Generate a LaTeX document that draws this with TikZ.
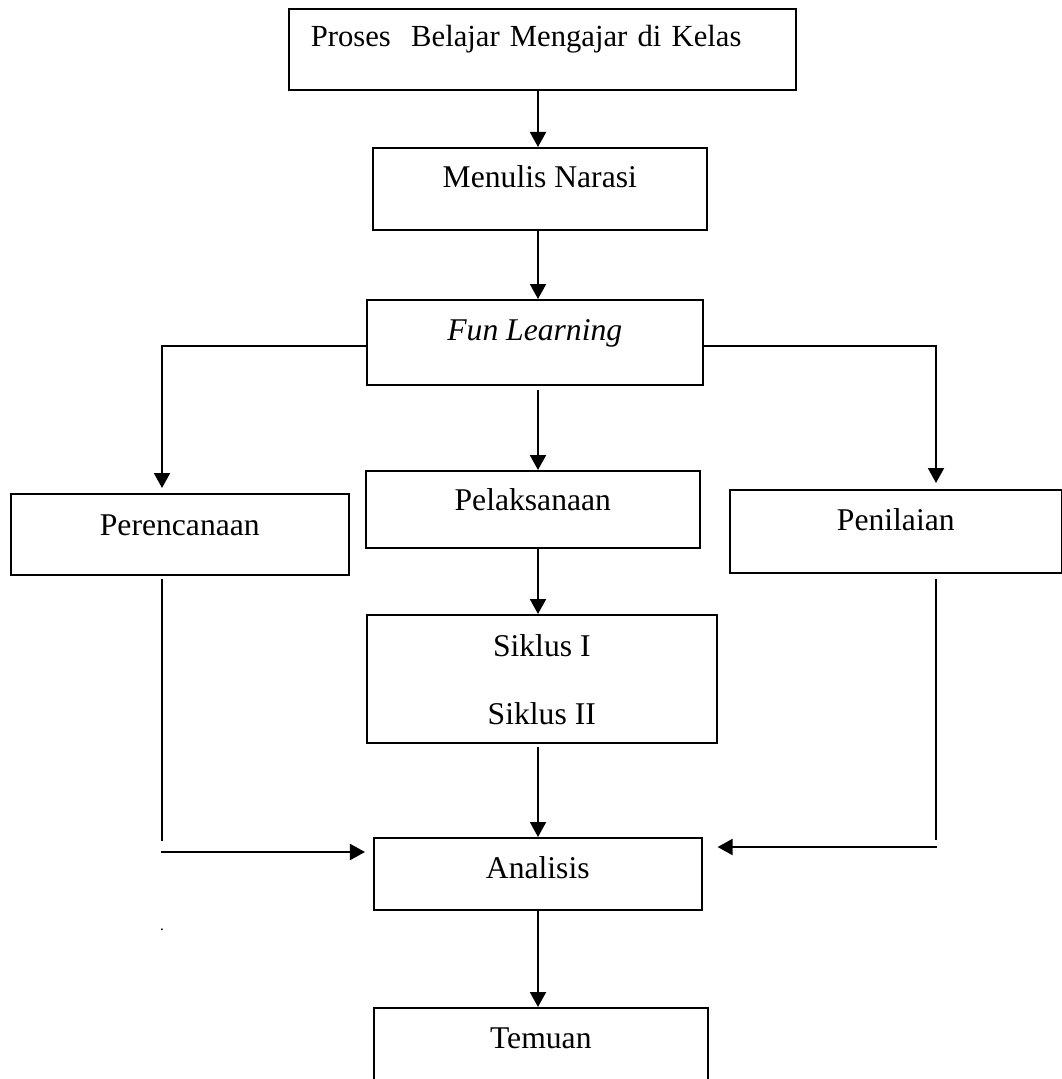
\documentclass[tikz,border=0pt]{standalone}
\usepackage{fontspec}
\setmainfont{Liberation Serif}
\usetikzlibrary{arrows.meta}

\begin{document}
\begin{tikzpicture}[x=0.025cm,y=-0.025cm,font=\fontsize{22.5}{27}\selectfont]
	\tikzstyle{box}=[rectangle,draw,line width=0.0375cm,anchor=north west,inner sep=0pt]
	\tikzstyle{flow}=[line width=0.05cm,-{Triangle[length=0.375cm,width=0.4cm]}]
	\tikzstyle{feed}=[line width=0.05cm]
	\useasboundingbox (0,0) rectangle (1062,1079);
	\node (proses)   at (288,8)    [box,minimum width=12.675cm,text width=11.575cm,inner xsep=0.55cm,align=left,text height=0.95cm,text depth=1.075cm,font=\fontsize{21.8}{27}\selectfont] {Proses \ Belajar Mengajar di Kelas};
	\node (menulis)  at (372,147)  [box,minimum width=8.35cm,text height=1.0cm,text depth=1.05cm] {Menulis Narasi};
	\node (fun)      at (366,299)  [box,minimum width=8.4cm,text height=1.025cm,text depth=1.1cm] {\textit{Fun Learning}};
	\node (perenc)   at (10,493)   [box,minimum width=8.45cm,text height=1.05cm,text depth=0.975cm] {Perencanaan};
	\node (pelak)    at (365,470)  [box,minimum width=8.35cm,text height=1.0cm,text depth=0.925cm] {Pelaksanaan};
	\node (penil)    at (729,489)  [box,minimum width=8.3cm,text height=1.025cm,text depth=1.05cm] {Penilaian};
	\node (siklus)   at (366,614)  [box,minimum width=8.75cm,align=center,text height=2.75cm,text depth=0.45cm,font=\fontsize{22.5}{48.4}\selectfont] {Siklus I\\Siklus II};
	\node (analisis) at (373,837)  [box,minimum width=8.2cm,text height=1.025cm,text depth=0.775cm] {Analisis};
	\node (temuan)   at (373,1007) [box,minimum width=8.35cm,text height=1.025cm,text depth=1.2cm] {Temuan};
	\node (dot)      at (162,930)  [font=\fontsize{11}{13}\selectfont] {.};
	\coordinate (spine)     at (538,0);
	\coordinate (branch)    at (0,346);
	\coordinate (leftcol)   at (162,0);
	\coordinate (rightcol)  at (936,0);
	\coordinate (lefttail)  at (162,841);
	\coordinate (righttail) at (936,840);
	\coordinate (leftfeed)  at (161,852);
	\coordinate (rightfeed) at (937,847);
	\draw [flow] (proses.south -| spine) -- (menulis.north -| spine);
	\draw [flow] (menulis.south -| spine) -- (fun.north -| spine);
	\draw [flow,shorten >=0.125cm] (fun.west |- branch) -| (leftcol |- perenc.north);
	\draw [flow,shorten >=0.15cm] (fun.east |- branch) -| (rightcol |- penil.north);
	\draw [flow,shorten <=0.1cm] (fun.south -| spine) -- (pelak.north -| spine);
	\draw [flow] (pelak.south -| spine) -- (siklus.north -| spine);
	\draw [flow,shorten <=0.075cm] (siklus.south -| spine) -- (analisis.north -| spine);
	\draw [flow] (analisis.south -| spine) -- (temuan.north -| spine);
	\draw [feed,shorten <=0.075cm] (leftcol |- perenc.south) -- (lefttail);
	\draw [feed,shorten <=0.125cm] (rightcol |- penil.south) -- (righttail);
	\draw [flow,shorten >=0.2cm] (leftfeed) -- (analisis.west |- leftfeed);
	\draw [flow,shorten >=0.375cm] (rightfeed) -- (analisis.east |- rightfeed);
\end{tikzpicture}
\end{document}
